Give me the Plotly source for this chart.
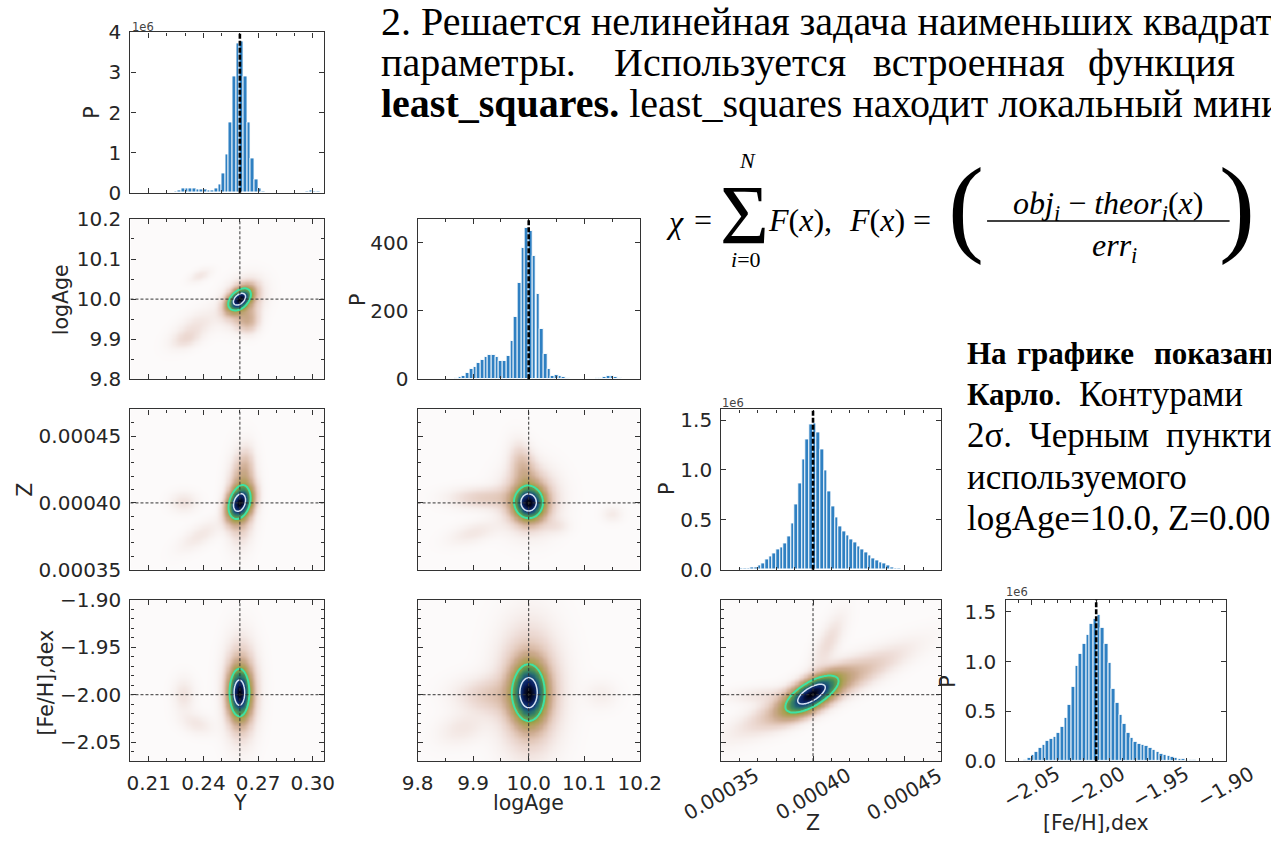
import numpy as np
import plotly.graph_objects as go

W, H = 1271, 846

# ---------------- data ----------------
PARAMS = ['Y', 'logAge', 'Z', 'FeH']
TRUE_VALUES = {'Y': 0.26, 'logAge': 10.0, 'Z': 0.0004, 'FeH': -2.0}

AXIS_RANGE = {'Y': [0.2, 0.3064], 'logAge': [9.8, 10.2], 'Z': [0.00035, 0.00047], 'FeH': [-2.07, -1.90]}
TICK_VALS = {'Y': [0.21, 0.24, 0.27, 0.30], 'logAge': [9.8, 9.9, 10.0, 10.1, 10.2],
             'Z': [0.00035, 0.00040, 0.00045], 'FeH': [-2.05, -2.00, -1.95, -1.90]}
TICK_TEXT = {'Y': ['0.21', '0.24', '0.27', '0.30'], 'logAge': ['9.8', '9.9', '10.0', '10.1', '10.2'],
             'Z': ['0.00035', '0.00040', '0.00045'], 'FeH': ['\u22122.05', '\u22122.00', '\u22121.95', '\u22121.90']}
MINOR_STEP = {'Y': 0.01, 'logAge': 0.05, 'Z': 0.00001, 'FeH': 0.01}
AXIS_LABEL = {'Y': 'Y', 'logAge': 'logAge', 'Z': 'Z', 'FeH': '[Fe/H],dex'}

HIST_TOP = {'Y': 4.0, 'logAge': 469, 'Z': 1.607, 'FeH': 1.62}
HIST_TICKS = {'Y': [0, 1, 2, 3, 4], 'logAge': [0, 200, 400], 'Z': [0, 0.5, 1.0, 1.5], 'FeH': [0, 0.5, 1.0, 1.5]}
HIST_TICKTEXT = {'Y': ['0', '1', '2', '3', '4'], 'logAge': ['0', '200', '400'],
                 'Z': ['0.0', '0.5', '1.0', '1.5'], 'FeH': ['0.0', '0.5', '1.0', '1.5']}
HIST_OFFSET = {'Y': '1e6', 'Z': '1e6', 'FeH': '1e6'}

Y_BIN_CENTERS = [0.201, 0.203, 0.205, 0.207, 0.209, 0.211, 0.213, 0.215, 0.217, 0.219,
                 0.221, 0.223, 0.225, 0.227, 0.229, 0.231, 0.233, 0.235, 0.237, 0.239,
                 0.241, 0.243, 0.245, 0.247, 0.249, 0.251, 0.253, 0.255, 0.257, 0.259,
                 0.261, 0.263, 0.265, 0.267, 0.269, 0.271, 0.273, 0.275, 0.277, 0.279,
                 0.281, 0.283, 0.285, 0.287, 0.289, 0.291, 0.293, 0.295, 0.297, 0.299,
                 0.301, 0.303, 0.305]
Y_COUNTS_1E6 = [0, 0, 0, 0, 0, 0, 0, 0.002, 0.004, 0.006,
                0.01, 0.02, 0.03, 0.06, 0.10, 0.12, 0.12, 0.10, 0.09, 0.08,
                0.08, 0.06, 0.07, 0.10, 0.22, 0.47, 0.95, 1.76, 2.89, 3.72,
                3.78, 2.90, 1.75, 0.85, 0.32, 0.10, 0.04, 0.02, 0.01, 0.005,
                0.003, 0.002, 0.002, 0.002, 0.003, 0.005, 0.01, 0.02, 0.035, 0.05,
                0.045, 0.03, 0.015]

LOGAGE_BIN_CENTERS = [9.8033, 9.8100, 9.8167, 9.8233, 9.8300, 9.8367, 9.8433, 9.8500, 9.8567, 9.8633,
                      9.8700, 9.8767, 9.8833, 9.8900, 9.8967, 9.9033, 9.9100, 9.9167, 9.9233, 9.9300,
                      9.9367, 9.9433, 9.9500, 9.9567, 9.9633, 9.9700, 9.9767, 9.9833, 9.9900, 9.9967,
                      10.0033, 10.0100, 10.0167, 10.0233, 10.0300, 10.0367, 10.0433, 10.0500, 10.0567, 10.0633,
                      10.0700, 10.0767, 10.0833, 10.0900, 10.0967, 10.1033, 10.1100, 10.1167, 10.1233, 10.1300,
                      10.1367, 10.1433, 10.1500, 10.1567, 10.1633, 10.1700, 10.1767, 10.1833, 10.1900, 10.1967]
LOGAGE_COUNTS = [0, 0, 0, 0, 0, 0, 0, 0.5, 1, 2,
                 3, 6, 11, 19, 29, 37, 47, 57, 65, 71,
                 71, 65, 54, 53, 69, 111, 183, 283, 383, 443,
                 433, 360, 251, 148, 73, 31, 11, 12, 10, 7,
                 4, 2, 1, 0.5, 0.5, 0.5, 0.5, 1, 3, 5,
                 8, 10, 10, 8, 5, 2, 1, 0.5, 0, 0]

Z_BIN_CENTERS = [3.51e-4, 3.53e-4, 3.55e-4, 3.57e-4, 3.59e-4, 3.61e-4, 3.63e-4, 3.65e-4, 3.67e-4, 3.69e-4,
                 3.71e-4, 3.73e-4, 3.75e-4, 3.77e-4, 3.79e-4, 3.81e-4, 3.83e-4, 3.85e-4, 3.87e-4, 3.89e-4,
                 3.91e-4, 3.93e-4, 3.95e-4, 3.97e-4, 3.99e-4, 4.01e-4, 4.03e-4, 4.05e-4, 4.07e-4, 4.09e-4,
                 4.11e-4, 4.13e-4, 4.15e-4, 4.17e-4, 4.19e-4, 4.21e-4, 4.23e-4, 4.25e-4, 4.27e-4, 4.29e-4,
                 4.31e-4, 4.33e-4, 4.35e-4, 4.37e-4, 4.39e-4, 4.41e-4, 4.43e-4, 4.45e-4, 4.47e-4, 4.49e-4,
                 4.51e-4, 4.53e-4, 4.55e-4, 4.57e-4, 4.59e-4, 4.61e-4, 4.63e-4, 4.65e-4, 4.67e-4, 4.69e-4]
Z_COUNTS_1E6 = [0.003, 0.003, 0.004, 0.005, 0.006, 0.01, 0.01, 0.012, 0.02, 0.025,
                0.04, 0.065, 0.10, 0.13, 0.16, 0.20, 0.22, 0.26, 0.33, 0.46,
                0.65, 0.87, 1.11, 1.31, 1.46, 1.47, 1.38, 1.21, 1.00, 0.79,
                0.63, 0.52, 0.43, 0.38, 0.34, 0.30, 0.27, 0.23, 0.20, 0.17,
                0.14, 0.11, 0.09, 0.075, 0.06, 0.04, 0.025, 0.015, 0.01, 0.006,
                0.004, 0.003, 0.002, 0.002, 0.001, 0.001, 0.001, 0, 0, 0]

FEH_BIN_CENTERS = [-2.0686, -2.0658, -2.0629, -2.0601, -2.0573, -2.0544, -2.0516, -2.0488, -2.0459, -2.0431,
                   -2.0403, -2.0374, -2.0346, -2.0318, -2.0289, -2.0261, -2.0233, -2.0204, -2.0176, -2.0148,
                   -2.0119, -2.0091, -2.0063, -2.0034, -2.0006, -1.9978, -1.9949, -1.9921, -1.9893, -1.9864,
                   -1.9836, -1.9808, -1.9779, -1.9751, -1.9723, -1.9694, -1.9666, -1.9638, -1.9609, -1.9581,
                   -1.9553, -1.9524, -1.9496, -1.9468, -1.9439, -1.9411, -1.9383, -1.9354, -1.9326, -1.9298,
                   -1.9269, -1.9241, -1.9213, -1.9184, -1.9156, -1.9128, -1.9099, -1.9071, -1.9043, -1.9014]
FEH_COUNTS_1E6 = [0.002, 0.003, 0.003, 0.004, 0.007, 0.015, 0.03, 0.06, 0.09, 0.13,
                  0.16, 0.20, 0.22, 0.245, 0.28, 0.34, 0.43, 0.57, 0.75, 0.96,
                  1.08, 1.18, 1.27, 1.38, 1.43, 1.47, 1.34, 1.18, 0.99, 0.73,
                  0.59, 0.47, 0.37, 0.28, 0.23, 0.19, 0.17, 0.16, 0.15, 0.13,
                  0.11, 0.09, 0.07, 0.06, 0.05, 0.04, 0.03, 0.025, 0.02, 0.015,
                  0.012, 0.01, 0.007, 0.004, 0.002, 0.002, 0.001, 0.001, 0.001, 0.001]

HIST_DATA = {'Y': (Y_BIN_CENTERS, Y_COUNTS_1E6), 'logAge': (LOGAGE_BIN_CENTERS, LOGAGE_COUNTS),
             'Z': (Z_BIN_CENTERS, Z_COUNTS_1E6), 'FeH': (FEH_BIN_CENTERS, FEH_COUNTS_1E6)}

# 2-D density blobs: (x0, y0, sigma_x, sigma_y, rho, weight)
DENS_Y_LOGAGE = [(0.2597, 10.000, 0.0039, 0.017, 0.45, 1.0),
                 (0.2610, 9.995, 0.0065, 0.032, 0.30, 0.16),
                 (0.2640, 9.948, 0.0040, 0.020, 0.00, 0.12),
                 (0.2350, 9.930, 0.0080, 0.030, 0.60, 0.035),
                 (0.2380, 10.060, 0.0040, 0.012, 0.50, 0.03),
                 (0.2300, 9.900, 0.0050, 0.015, 0.30, 0.03)]
DENS_Y_Z = [(0.2597, 0.000400, 0.0040, 7.5e-6, 0.30, 1.0),
            (0.2605, 0.000404, 0.0045, 1.8e-5, 0.10, 0.18),
            (0.2625, 0.000425, 0.0030, 1.0e-5, 0.20, 0.07),
            (0.2290, 0.000401, 0.0050, 5.0e-6, 0.00, 0.035),
            (0.2380, 0.000376, 0.0080, 8.0e-6, 0.70, 0.03)]
DENS_Y_FEH = [(0.2597, -1.998, 0.0034, 0.0153, 0.0, 1.0),
              (0.2602, -1.995, 0.0055, 0.030, 0.0, 0.18),
              (0.2290, -2.000, 0.0040, 0.012, 0.0, 0.035),
              (0.2360, -2.030, 0.0060, 0.008, -0.3, 0.03)]
DENS_LOGAGE_Z = [(10.000, 0.000400, 0.016, 7.3e-6, 0.0, 1.0),
                 (10.000, 0.000403, 0.030, 1.4e-5, 0.0, 0.16),
                 (9.990, 0.000425, 0.015, 1.2e-5, -0.3, 0.11),
                 (9.920, 0.000404, 0.040, 5.0e-6, 0.0, 0.07),
                 (9.900, 0.000378, 0.030, 6.0e-6, 0.5, 0.03),
                 (10.050, 0.000383, 0.015, 4.0e-6, 0.0, 0.025),
                 (10.150, 0.000392, 0.012, 4.0e-6, 0.0, 0.025)]
DENS_LOGAGE_FEH = [(10.000, -1.998, 0.018, 0.0185, 0.0, 1.0),
                   (10.000, -1.995, 0.035, 0.040, 0.0, 0.15),
                   (9.930, -2.000, 0.040, 0.012, 0.0, 0.07),
                   (9.880, -2.035, 0.030, 0.012, 0.3, 0.03),
                   (10.130, -2.000, 0.020, 0.010, 0.0, 0.02)]
DENS_Z_FEH = [(0.000399, -1.9995, 8.3e-6, 0.0120, 0.65, 1.0),
              (0.000405, -1.9950, 2.5e-5, 0.0250, 0.90, 0.16),
              (0.000400, -1.9980, 1.3e-5, 0.0170, 0.75, 0.15),
              (0.000408, -1.9450, 6.0e-6, 0.0200, 0.70, 0.05),
              (0.000372, -2.0000, 1.2e-5, 0.0060, 0.20, 0.035)]
DENSITIES = {('Y', 'logAge'): DENS_Y_LOGAGE, ('Y', 'Z'): DENS_Y_Z, ('Y', 'FeH'): DENS_Y_FEH,
             ('logAge', 'Z'): DENS_LOGAGE_Z, ('logAge', 'FeH'): DENS_LOGAGE_FEH, ('Z', 'FeH'): DENS_Z_FEH}

# ---------------- styling / layout ----------------
COL_PX = {1: (118, 318), 2: (414, 643), 3: (727, 954), 4: (1020, 1247)}
ROW_PX = {1: (21, 186), 2: (213, 378), 3: (409, 574), 4: (605, 771)}
AX = '#333333'
TXT = '#262626'
TICK_FS = 20
TITLE_FS = 20.5
BIN_WIDTH = {'Y': 0.002, 'logAge': 0.4 / 60, 'Z': 2e-6, 'FeH': 0.17 / 60}
CMAP = [[0.0, '#fcfafa'], [0.015, '#f7f0ee'], [0.04, '#eedcd6'], [0.08, '#e0c4b4'],
        [0.13, '#cdab90'], [0.20, '#baa06c'], [0.27, '#a8a050'], [0.34, '#86a048'],
        [0.45, '#469058'], [0.58, '#266e72'], [0.70, '#16407a'], [0.84, '#0a1e60'], [1.0, '#00000a']]
GREEN = '#3de2a4'
PALE = '#d4e2f2'


def xdom(c):
    a, b = COL_PX[c]
    return [a / W, b / W]


def ydom(r):
    a, b = ROW_PX[r]
    return [1 - b / H, 1 - a / H]


def density(comps, xr, yr, nx=170, ny=140):
    xs = np.linspace(xr[0], xr[1], nx)
    ys = np.linspace(yr[0], yr[1], ny)
    X, Yg = np.meshgrid(xs, ys)
    Zd = np.zeros_like(X)
    for (x0, y0, sx, sy, rho, w) in comps:
        u = (X - x0) / sx
        v = (Yg - y0) / sy
        q = (u * u - 2 * rho * u * v + v * v) / (1 - rho * rho)
        Zd += w * np.exp(-0.5 * q)
    return xs, ys, Zd / Zd.max()


def ann(text, px, py, size, family='Liberation Serif', xanchor='left', yanchor='middle',
        angle=0, color='black', xref='paper', xval=None):
    return dict(text=text, x=(xval if xval is not None else px / W), y=1 - py / H,
                xref=xref, yref='paper', showarrow=False, textangle=angle,
                font=dict(family=family, size=size, color=color),
                xanchor=xanchor, yanchor=yanchor, borderpad=0)


common = dict(showline=True, linecolor=AX, linewidth=1.3, mirror='allticks', ticks='inside',
              ticklen=5, tickwidth=1, tickcolor=AX, showgrid=False, zeroline=False,
              tickfont=dict(family='DejaVu Sans', size=TICK_FS, color=TXT), ticklabelstandoff=4)

fig = go.Figure()
layout = {}
shapes = []
annotations = []

idx = 0
for r in range(1, 5):
    for c in range(1, r + 1):
        idx += 1
        s = '' if idx == 1 else str(idx)
        xp = PARAMS[c - 1]
        yp = None if r == c else PARAMS[r - 1]
        xref, yref = 'x' + s, 'y' + s
        minor_x = dict(tickmode='linear', tick0=AXIS_RANGE[xp][0], dtick=MINOR_STEP[xp],
                       ticks='inside', ticklen=3, tickwidth=1, tickcolor=AX, showgrid=False)
        layout['xaxis' + s] = dict(domain=xdom(c), anchor=yref, range=AXIS_RANGE[xp],
                                   tickmode='array', tickvals=TICK_VALS[xp], ticktext=TICK_TEXT[xp],
                                   showticklabels=(r == 4 and c <= 2), minor=minor_x, **common)
        if yp is None:
            centers, counts = HIST_DATA[xp]
            fig.add_trace(go.Bar(x=centers, y=counts, width=BIN_WIDTH[xp], xaxis=xref, yaxis=yref,
                                 marker=dict(color='#2f80c2', line=dict(color='white', width=0.9)),
                                 hoverinfo='skip', showlegend=False))
            layout['yaxis' + s] = dict(domain=ydom(r), anchor=xref, range=[0, HIST_TOP[xp]],
                                       tickmode='array', tickvals=HIST_TICKS[xp],
                                       ticktext=HIST_TICKTEXT[xp], showticklabels=True, **common)
            shapes.append(dict(type='line', xref=xref, yref=yref + ' domain',
                               x0=TRUE_VALUES[xp], x1=TRUE_VALUES[xp], y0=0, y1=1,
                               line=dict(color='black', width=2.6, dash='5px,2px')))
        else:
            minor_y = dict(tickmode='linear', tick0=AXIS_RANGE[yp][0], dtick=MINOR_STEP[yp],
                           ticks='inside', ticklen=3, tickwidth=1, tickcolor=AX, showgrid=False)
            layout['yaxis' + s] = dict(domain=ydom(r), anchor=xref, range=AXIS_RANGE[yp],
                                       tickmode='array', tickvals=TICK_VALS[yp], ticktext=TICK_TEXT[yp],
                                       showticklabels=(c == 1), minor=minor_y, **common)
            xs, ys, Zd = density(DENSITIES[(xp, yp)], AXIS_RANGE[xp], AXIS_RANGE[yp])
            fig.add_trace(go.Heatmap(x=xs, y=ys, z=Zd, colorscale=CMAP, zmin=0, zmax=1, zsmooth='best',
                                     showscale=False, hoverinfo='skip', xaxis=xref, yaxis=yref))
            for lvl, col, wd in [(0.33, GREEN, 2.0), (0.72, PALE, 1.5)]:
                fig.add_trace(go.Contour(x=xs, y=ys, z=Zd, autocontour=False,
                                         contours=dict(start=lvl, end=lvl, size=0.1, coloring='lines'),
                                         colorscale=[[0, col], [1, col]], line=dict(width=wd, smoothing=1),
                                         showscale=False, hoverinfo='skip', xaxis=xref, yaxis=yref))
            shapes.append(dict(type='line', xref=xref, yref=yref + ' domain',
                               x0=TRUE_VALUES[xp], x1=TRUE_VALUES[xp], y0=0, y1=1,
                               line=dict(color=AX, width=1, dash='3px,2px')))
            shapes.append(dict(type='line', xref=xref + ' domain', yref=yref,
                               x0=0, x1=1, y0=TRUE_VALUES[yp], y1=TRUE_VALUES[yp],
                               line=dict(color=AX, width=1, dash='3px,2px')))
        # rotated x tick labels for the bottom row, columns 3 and 4
        if r == 4 and c >= 3:
            ylab = 805 if xp == 'Z' else 798
            for v, t in zip(TICK_VALS[xp], TICK_TEXT[xp]):
                annotations.append(ann(t, 0, ylab, TICK_FS, family='DejaVu Sans', xanchor='center',
                                       angle=-30, color=TXT, xref=xref, xval=v))

# axis titles
DS = 'DejaVu Sans'
annotations += [
    ann('P', 78, 104, TITLE_FS, DS, 'center', angle=-90, color=TXT),
    ann(AXIS_LABEL['logAge'], 46, 296, TITLE_FS, DS, 'center', angle=-90, color=TXT),
    ann(AXIS_LABEL['Z'], 9, 492, TITLE_FS, DS, 'center', angle=-90, color=TXT),
    ann(AXIS_LABEL['FeH'], 31, 690, TITLE_FS, DS, 'center', angle=-90, color=TXT),
    ann('P', 352, 296, TITLE_FS, DS, 'center', angle=-90, color=TXT),
    ann('P', 671, 491, TITLE_FS, DS, 'center', angle=-90, color=TXT),
    ann('P', 961, 689, TITLE_FS, DS, 'center', angle=-90, color=TXT),
    ann(AXIS_LABEL['Y'], 231, 814, TITLE_FS, DS, 'center', color=TXT),
    ann(AXIS_LABEL['logAge'], 528, 814, TITLE_FS, DS, 'center', color=TXT),
    ann(AXIS_LABEL['Z'], 822, 835, TITLE_FS, DS, 'center', color=TXT),
    ann(AXIS_LABEL['FeH'], 1113, 835, TITLE_FS, DS, 'center', color=TXT),
]
# offset texts
for p, (px, py) in {'Y': (119, 15), 'Z': (727, 402), 'FeH': (1019, 597)}.items():
    annotations.append(ann(HIST_OFFSET[p], px, py, 11.5, DS, 'left', color='#444'))

# slide text
SERIF = 'Liberation Serif'
FT = 40
FB = 31
FR = 35
annotations += [
    ann('2. Решается нелинейная задача наименьших квадратов', 375, 10, FT, SERIF),
    ann('параметры.', 375, 52, FT, SERIF),
    ann('Используется', 615, 52, FT, SERIF),
    ann('встроенная', 882, 52, FT, SERIF),
    ann('функция', 1104, 52, FT, SERIF),
    ann('<b>least_squares.</b> least_squares находит локальный минимум', 375, 94, FT, SERIF),
    ann('<b>На</b>', 979, 351, FB, SERIF),
    ann('<b>графике</b>', 1031, 351, FB, SERIF),
    ann('<b>показаны</b>', 1172, 351, FB, SERIF),
    ann('<b>Карло</b>.', 979, 394, FB, SERIF),
    ann('Контурами', 1095, 394, FR, SERIF),
    ann('2σ.', 979, 436, FR, SERIF),
    ann('Черным', 1043, 436, FR, SERIF),
    ann('пунктиром', 1184, 436, FR, SERIF),
    ann('используемого', 979, 479, FR, SERIF),
    ann('logAge=10.0,', 979, 521, FR, SERIF),
    ann('Z=0.0004', 1186, 521, FR, SERIF),
]
# formula
annotations += [
    ann('<i>χ</i>', 679, 216, 32, SERIF, 'center'),
    ann('=', 708, 214, 32, SERIF, 'center'),
    ann('Σ', 751, 209, 84, SERIF, 'center'),
    ann('<i>N</i>', 754, 153, 22, SERIF, 'center'),
    ann('<i>i</i>=0', 752, 255, 22, SERIF, 'center'),
    ann('<i>F</i>(<i>x</i>),', 808, 214, 32, SERIF, 'center'),
    ann('<i>F</i>(<i>x</i>) =', 901, 214, 32, SERIF, 'center'),
    ann('(', 979, 200, 108, SERIF, 'center'),
    ann('<i>obj<sub>i</sub></i> − <i>theor<sub>i</sub></i>(<i>x</i>)', 1126, 199, 32, SERIF, 'center'),
    ann('<i>err<sub>i</sub></i>', 1132, 242, 32, SERIF, 'center'),
    ann(')', 1259, 200, 108, SERIF, 'center'),
]
shapes.append(dict(type='line', xref='paper', yref='paper', x0=1001 / W, x1=1251 / W,
                   y0=1 - 215 / H, y1=1 - 215 / H, line=dict(color='black', width=1.5)))

fig.update_layout(width=W, height=H, margin=dict(l=0, r=0, t=0, b=0),
                  paper_bgcolor='white', plot_bgcolor='white', showlegend=False,
                  bargap=0, shapes=shapes, annotations=annotations, **layout)
fig.write_html('out.html')
